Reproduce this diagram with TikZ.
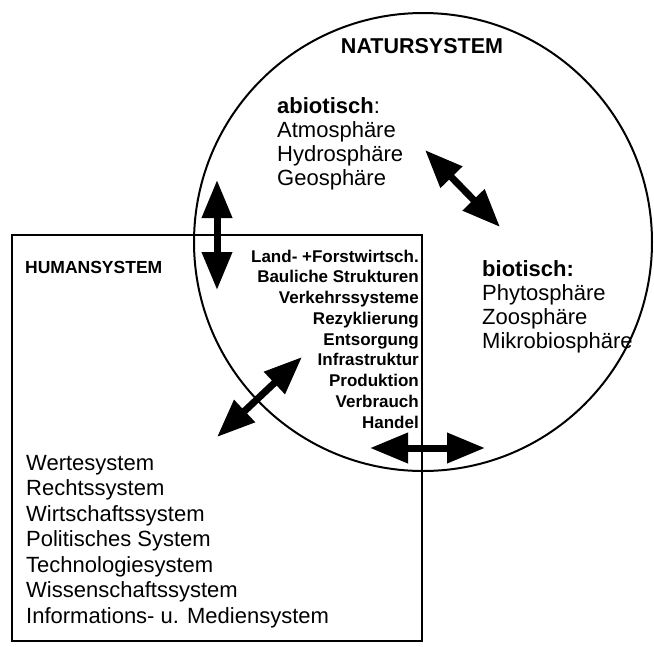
\documentclass[tikz,border=0pt]{standalone}
\usepackage{fontspec}
\setmainfont{Liberation Sans}
\usetikzlibrary{arrows.meta}
\tikzset{
  frame/.style={line width=2pt},
  dbl/.style={line width=7pt, {Triangle[length=38pt,width=29pt]}-{Triangle[length=38pt,width=29pt]}},
  txt/.style={inner sep=0pt, align=left, font=\fontsize{22}{24}\selectfont},
  midlist/.style={inner sep=0pt, align=right, font=\fontsize{17}{20.75}\selectfont\bfseries},
}
\begin{document}
\begin{tikzpicture}[x=1pt,y=-1pt]
\useasboundingbox (0,0) rectangle (654,646);
% systems
\node[frame, draw, circle, minimum size=458pt, inner sep=0pt] (natur) at (423,242) {};
\draw[frame] (12,235) rectangle (422,641);
\coordinate (humanNW) at (12,235);
% titles
\node[inner sep=0pt, anchor=base, font=\fontsize{21.5}{24}\selectfont\bfseries] (naturtitle) at (422,53) {NATURSYSTEM};
\node[inner sep=0pt, anchor=base west, font=\fontsize{17.5}{20}\selectfont\bfseries] (humantitle) at (25,273) {HUMANSYSTEM};
% abiotic (base anchor = last line baseline)
\node[txt, anchor=base west] (abio) at (277,185) {\textbf{abiotisch}:\\Atmosphäre\\Hydrosphäre\\Geosphäre};
% biotic
\node[txt, anchor=base west] (bio) at (482,348) {\textbf{biotisch:}\\Phytosphäre\\Zoosphäre\\Mikrobiosphäre};
% intersection list
\node[midlist, anchor=base east] (mid) at (419,428) {Land- +Forstwirtsch.\\Bauliche Strukturen\\Verkehrssysteme\\Rezyklierung\\Entsorgung\\Infrastruktur\\Produktion\\Verbrauch\\Handel};
% human list
\node[inner sep=0pt, align=left, anchor=base west, font=\fontsize{22}{25.5}\selectfont] (hum) at (26,623) {Wertesystem\\Rechtssystem\\Wirtschaftssystem\\Politisches System\\Technologiesystem\\Wissenschaftssystem\\Informations- u. Mediensystem};
% arrows
\coordinate (v1) at (217,180); \coordinate (v2) at (217,290);
\coordinate (d1) at (425,150); \coordinate (d2) at (500,227);
\coordinate (l1) at (302,357); \coordinate (l2) at (217,437);
\coordinate (h1) at (370,448); \coordinate (h2) at (485,448);
\draw[dbl] (v1) -- (v2);
\draw[dbl] (d1) -- (d2);
\draw[dbl] (l1) -- (l2);
\draw[dbl] (h1) -- (h2);
\end{tikzpicture}
\end{document}
